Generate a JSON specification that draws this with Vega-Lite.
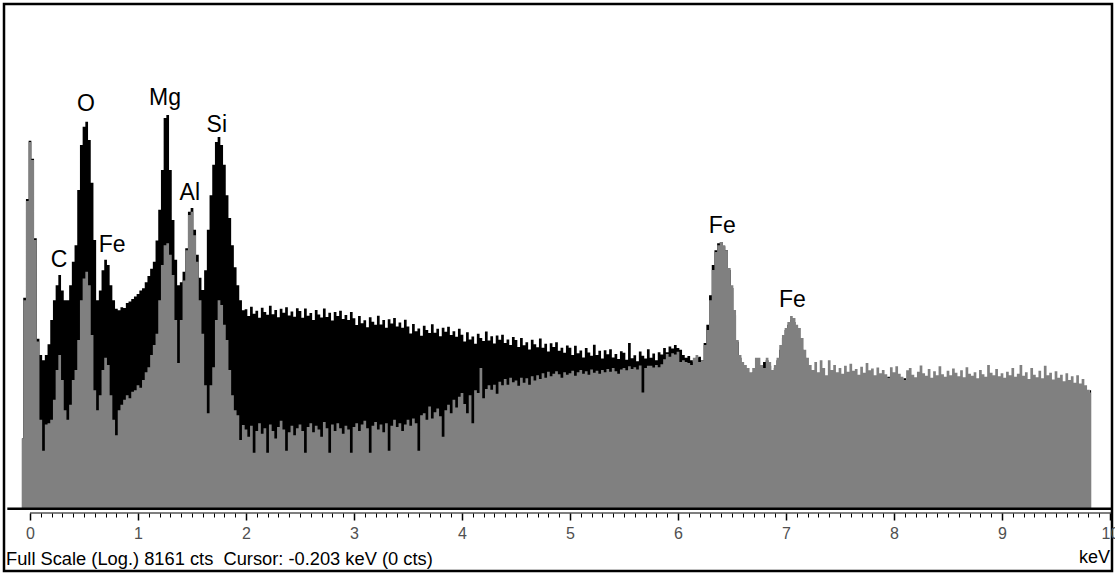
{
"$schema": "https://vega.github.io/schema/vega-lite/v6.json",
"width": 1108, "height": 567, "autosize": "none",
"padding": {"left": 4, "top": 4, "right": 3, "bottom": 3},
"background": "#ffffff",
"config": {"view": {"stroke": "#000000", "strokeWidth": 2.5}, "font": "Liberation Sans"},
"datasets": {
"spec": [
{"e":-0.075,"k":3.5,"g":3.5},{"e":-0.05,"k":44,"g":42},{"e":-0.025,"k":260,"g":250},{"e":0,"k":740,"g":725},{"e":0.025,"k":535,"g":523},{"e":0.05,"k":128,"g":124},{"e":0.075,"k":21,"g":20},{"e":0.1,"k":15.7,"g":4.9},{"e":0.125,"k":14.3,"g":2.8},{"e":0.15,"k":15.7,"g":4.5},{"e":0.175,"k":19,"g":4.6},{"e":0.2,"k":29.5,"g":4.9},{"e":0.225,"k":42,"g":7},{"e":0.25,"k":55,"g":12},{"e":0.275,"k":66,"g":15.7},{"e":0.3,"k":50,"g":10},{"e":0.325,"k":42,"g":5.8},{"e":0.35,"k":42,"g":4.9},{"e":0.375,"k":55,"g":6.4},{"e":0.4,"k":84,"g":10},{"e":0.425,"k":113,"g":12},{"e":0.45,"k":305,"g":20.5},{"e":0.475,"k":685,"g":42},{"e":0.5,"k":950,"g":62},{"e":0.525,"k":1040,"g":70},{"e":0.55,"k":750,"g":55},{"e":0.575,"k":347,"g":22.5},{"e":0.6,"k":124,"g":8.3},{"e":0.625,"k":42,"g":5.8},{"e":0.65,"k":50,"g":7.6},{"e":0.675,"k":72,"g":12},{"e":0.7,"k":87,"g":14.9},{"e":0.725,"k":79,"g":13.1},{"e":0.75,"k":55,"g":7.6},{"e":0.775,"k":42,"g":4.9},{"e":0.8,"k":36,"g":3.7},{"e":0.825,"k":35,"g":5.8},{"e":0.85,"k":37,"g":6.4},{"e":0.875,"k":36.5,"g":7},{"e":0.9,"k":40,"g":7.6},{"e":0.925,"k":41,"g":7.2},{"e":0.95,"k":43,"g":8.1},{"e":0.975,"k":45,"g":8.3},
{"e":1.0,"k":47,"g":9.1},{"e":1.025,"k":50,"g":8.7},{"e":1.05,"k":52,"g":10},{"e":1.075,"k":58,"g":11.5},{"e":1.1,"k":65,"g":12.6},{"e":1.125,"k":74,"g":15.7},{"e":1.15,"k":84,"g":18.8},{"e":1.175,"k":123,"g":23},{"e":1.2,"k":214,"g":42},{"e":1.225,"k":438,"g":79},{"e":1.25,"k":1115,"g":113},{"e":1.275,"k":1176,"g":117},{"e":1.3,"k":438,"g":95},{"e":1.325,"k":178,"g":66},{"e":1.35,"k":87,"g":29.5},{"e":1.375,"k":55,"g":13.6},{"e":1.4,"k":58,"g":29.5},{"e":1.425,"k":70,"g":60},{"e":1.45,"k":107,"g":103},{"e":1.475,"k":206,"g":195},{"e":1.5,"k":221,"g":206},{"e":1.525,"k":149,"g":135},{"e":1.55,"k":95,"g":84},{"e":1.575,"k":63,"g":42},{"e":1.6,"k":50.5,"g":23},{"e":1.625,"k":72,"g":9.1},{"e":1.65,"k":149,"g":5.5},{"e":1.675,"k":278,"g":9.1},{"e":1.7,"k":480,"g":12.6},{"e":1.725,"k":725,"g":29.5},{"e":1.75,"k":790,"g":42},{"e":1.775,"k":685,"g":38.6},{"e":1.8,"k":480,"g":27},{"e":1.825,"k":278,"g":20.5},{"e":1.85,"k":184,"g":12},{"e":1.875,"k":113,"g":7.6},{"e":1.9,"k":76,"g":5.8},{"e":1.925,"k":55,"g":5.3},{"e":1.95,"k":42,"g":3.4},{"e":1.975,"k":35,"g":4.45},
{"e":2.0,"k":35.7,"g":4.1},{"e":2.025,"k":31.6,"g":3.6},{"e":2.05,"k":37.4,"g":4.4},{"e":2.075,"k":33,"g":2.7},{"e":2.1,"k":34.7,"g":4.0},{"e":2.125,"k":30.6,"g":4.6},{"e":2.15,"k":36.7,"g":3.8},{"e":2.175,"k":34,"g":4.2},{"e":2.2,"k":32.3,"g":2.7},{"e":2.225,"k":38,"g":4.5},{"e":2.25,"k":32.6,"g":4.0},{"e":2.275,"k":35.3,"g":3.5},{"e":2.3,"k":30.9,"g":4.3},{"e":2.325,"k":36,"g":4.8},{"e":2.35,"k":33.6,"g":4.1},{"e":2.375,"k":37,"g":2.8},{"e":2.4,"k":31.9,"g":3.9},{"e":2.425,"k":34.3,"g":4.4},{"e":2.45,"k":31.2,"g":3.7},{"e":2.475,"k":36.3,"g":4.2},
{"e":2.5,"k":34.6,"g":4.5},{"e":2.525,"k":30.7,"g":4.0},{"e":2.55,"k":36.2,"g":2.7},{"e":2.575,"k":31.8,"g":4.3},{"e":2.6,"k":33.4,"g":4.6},{"e":2.625,"k":29.4,"g":3.9},{"e":2.65,"k":35.2,"g":4.4},{"e":2.675,"k":32.5,"g":4.1},{"e":2.7,"k":30.8,"g":3.6},{"e":2.725,"k":36.2,"g":4.7},{"e":2.75,"k":31,"g":4.2},{"e":2.775,"k":33.5,"g":2.7},{"e":2.8,"k":29.2,"g":4.5},{"e":2.825,"k":34,"g":4.0},{"e":2.85,"k":31.7,"g":4.6},{"e":2.875,"k":34.8,"g":4.2},{"e":2.9,"k":30,"g":3.8},{"e":2.925,"k":32.2,"g":4.4},{"e":2.95,"k":29.4,"g":4.1},{"e":2.975,"k":34,"g":2.7},
{"e":3.0,"k":30.4,"g":4.3},{"e":3.025,"k":26.9,"g":4.6},{"e":3.05,"k":31.7,"g":4.0},{"e":3.075,"k":27.8,"g":4.5},{"e":3.1,"k":29.3,"g":4.8},{"e":3.125,"k":25.8,"g":4.2},{"e":3.15,"k":30.9,"g":2.7},{"e":3.175,"k":28.5,"g":4.4},{"e":3.2,"k":27,"g":4.7},{"e":3.225,"k":31.8,"g":4.1},{"e":3.25,"k":27.2,"g":4.5},{"e":3.275,"k":29.4,"g":3.9},{"e":3.3,"k":25.6,"g":4.6},{"e":3.325,"k":29.8,"g":2.8},{"e":3.35,"k":27.7,"g":4.4},{"e":3.375,"k":30.5,"g":4.9},{"e":3.4,"k":26.2,"g":4.3},{"e":3.425,"k":28.1,"g":4.6},{"e":3.45,"k":25.6,"g":4.0},{"e":3.475,"k":29.6,"g":4.5},
{"e":3.5,"k":26.2,"g":4.9},{"e":3.525,"k":23.1,"g":4.4},{"e":3.55,"k":27.4,"g":5.0},{"e":3.575,"k":24,"g":4.6},{"e":3.6,"k":25.3,"g":2.8},{"e":3.625,"k":22.2,"g":5.3},{"e":3.65,"k":26.6,"g":5.5},{"e":3.675,"k":24.6,"g":4.9},{"e":3.7,"k":23.3,"g":6.2},{"e":3.725,"k":27.3,"g":5.0},{"e":3.75,"k":23.4,"g":5.6},{"e":3.775,"k":25.2,"g":6.0},{"e":3.8,"k":22,"g":5.2},{"e":3.825,"k":25.6,"g":3.6},{"e":3.85,"k":23.8,"g":5.8},{"e":3.875,"k":26.1,"g":6.4},{"e":3.9,"k":22.5,"g":5.5},{"e":3.925,"k":24,"g":7.0},{"e":3.95,"k":21.8,"g":6.1},{"e":3.975,"k":25.1,"g":7.4},
{"e":4.0,"k":22.6,"g":7.9},{"e":4.025,"k":20,"g":6.5},{"e":4.05,"k":23.6,"g":5.5},{"e":4.075,"k":20.7,"g":7.6},{"e":4.1,"k":21.9,"g":4.6},{"e":4.125,"k":19.2,"g":8.3},{"e":4.15,"k":23,"g":7.9},{"e":4.175,"k":21.3,"g":12.4},{"e":4.2,"k":20.2,"g":7.2},{"e":4.225,"k":23.9,"g":8.5},{"e":4.25,"k":20.4,"g":9.1},{"e":4.275,"k":22,"g":8.4},{"e":4.3,"k":19.3,"g":9.2},{"e":4.325,"k":22.3,"g":7.8},{"e":4.35,"k":20.6,"g":9.7},{"e":4.375,"k":22.6,"g":9.1},{"e":4.4,"k":19.5,"g":10.2},{"e":4.425,"k":20.7,"g":9.2},{"e":4.45,"k":18.8,"g":10.4},{"e":4.475,"k":21.7,"g":9.6},
{"e":4.5,"k":20.5,"g":9.9},{"e":4.525,"k":18.1,"g":9.0},{"e":4.55,"k":21.3,"g":10.4},{"e":4.575,"k":18.7,"g":9.5},{"e":4.6,"k":19.7,"g":10.3},{"e":4.625,"k":17.3,"g":9.2},{"e":4.65,"k":20.6,"g":10.7},{"e":4.675,"k":19,"g":9.9},{"e":4.7,"k":18,"g":10.9},{"e":4.725,"k":21.1,"g":10.2},{"e":4.75,"k":17.9,"g":11.3},{"e":4.775,"k":19.2,"g":10.4},{"e":4.8,"k":16.7,"g":11.6},{"e":4.825,"k":19.4,"g":10.7},{"e":4.85,"k":18.1,"g":11.2},{"e":4.875,"k":19.7,"g":11.7},{"e":4.9,"k":16.9,"g":11.1},{"e":4.925,"k":17.9,"g":10.4},{"e":4.95,"k":16.3,"g":11.5},{"e":4.975,"k":18.6,"g":11.0},
{"e":5.0,"k":17.9,"g":11.3},{"e":5.025,"k":15.7,"g":11.8},{"e":5.05,"k":18.5,"g":10.8},{"e":5.075,"k":16.2,"g":11.5},{"e":5.1,"k":17,"g":12.0},{"e":5.125,"k":15,"g":11.2},{"e":5.15,"k":17.8,"g":11.7},{"e":5.175,"k":16.4,"g":11.0},{"e":5.2,"k":15.5,"g":12.1},{"e":5.225,"k":18.9,"g":11.4},{"e":5.25,"k":15.7,"g":11.8},{"e":5.275,"k":16.9,"g":11.2},{"e":5.3,"k":14.7,"g":12.0},{"e":5.325,"k":17.1,"g":11.5},{"e":5.35,"k":15.9,"g":12.2},{"e":5.375,"k":17.4,"g":11.6},{"e":5.4,"k":15,"g":12.4},{"e":5.425,"k":16,"g":11.7},{"e":5.45,"k":14.6,"g":11.2},{"e":5.475,"k":16.8,"g":12.1},
{"e":5.5,"k":16.3,"g":12.4},{"e":5.525,"k":14.4,"g":11.9},{"e":5.55,"k":19.5,"g":12.8},{"e":5.575,"k":14.8,"g":12.2},{"e":5.6,"k":15.6,"g":12.6},{"e":5.625,"k":14,"g":12.1},{"e":5.65,"k":16.7,"g":13.0},{"e":5.675,"k":15.5,"g":8.0},{"e":5.7,"k":14.7,"g":12.4},{"e":5.725,"k":17.4,"g":12.9},{"e":5.75,"k":14.9,"g":12.9},{"e":5.775,"k":16.1,"g":12.5},{"e":5.8,"k":14.3,"g":13.1},{"e":5.825,"k":16.5,"g":12.6},{"e":5.85,"k":15.8,"g":13.3},{"e":5.875,"k":17.8,"g":14.5},{"e":5.9,"k":16.5,"g":16.0},{"e":5.925,"k":18.3,"g":15.2},{"e":5.95,"k":17.6,"g":16.2},{"e":5.975,"k":18.8,"g":15.8},
{"e":6.0,"k":17.8,"g":16.6},{"e":6.025,"k":17.2,"g":13.8},{"e":6.05,"k":15.7,"g":14.3},{"e":6.075,"k":14.9,"g":13.8},{"e":6.1,"k":15.4,"g":13.6},{"e":6.125,"k":14.3,"g":13.1},{"e":6.15,"k":13.8,"g":14.9},{"e":6.175,"k":14.9,"g":15.7},{"e":6.2,"k":15.2,"g":13.8},{"e":6.225,"k":14.3,"g":14.3},{"e":6.25,"k":19.5,"g":18.8},{"e":6.275,"k":27,"g":24.6},{"e":6.3,"k":46,"g":42},{"e":6.325,"k":79,"g":72.5},{"e":6.35,"k":103,"g":100},{"e":6.375,"k":117,"g":113},{"e":6.4,"k":120,"g":120},{"e":6.425,"k":111,"g":113},{"e":6.45,"k":103,"g":103},{"e":6.475,"k":72.5,"g":75},{"e":6.5,"k":52.3,"g":55},{"e":6.525,"k":32,"g":35.2},{"e":6.55,"k":19.9,"g":20.5},{"e":6.575,"k":14.9,"g":15.7},{"e":6.6,"k":13.1,"g":13.8},{"e":6.625,"k":12,"g":13.1},{"e":6.65,"k":10.4,"g":12.4},{"e":6.675,"k":10.9,"g":11.5},{"e":6.7,"k":11.5,"g":12.4},{"e":6.725,"k":11.5,"g":14.9},{"e":6.75,"k":12,"g":14.9},{"e":6.775,"k":12.4,"g":13.1},{"e":6.8,"k":13.8,"g":12.4},{"e":6.825,"k":14.3,"g":14.9},{"e":6.85,"k":12.9,"g":13.8},{"e":6.875,"k":11.5,"g":12},{"e":6.9,"k":12.4,"g":13.1},{"e":6.925,"k":14.3,"g":14.9},{"e":6.95,"k":17.2,"g":18.8},{"e":6.975,"k":21.3,"g":22.5},
{"e":7.0,"k":24.6,"g":25.5},{"e":7.025,"k":27,"g":28.4},{"e":7.05,"k":29.5,"g":31.6},{"e":7.075,"k":28.4,"g":30.5},{"e":7.1,"k":24.6,"g":27},{"e":7.125,"k":20.5,"g":25.5},{"e":7.15,"k":17.2,"g":21.3},{"e":7.175,"k":14.9,"g":17.2},{"e":7.2,"k":12.4,"g":14.9},{"e":7.225,"k":11.5,"g":13.1},{"e":7.25,"k":10.4,"g":12},{"e":7.275,"k":10,"g":13.8},{"e":7.3,"k":10.9,"g":11.5},{"e":7.325,"k":9.1,"g":14.3},{"e":7.35,"k":10.4,"g":12.4},{"e":7.375,"k":9.8,"g":10.9},{"e":7.4,"k":9.1,"g":14.3},{"e":7.425,"k":10.9,"g":12},{"e":7.45,"k":10,"g":13.1},{"e":7.475,"k":9.6,"g":11.5},
{"e":7.5,"k":9.6,"g":12.4},{"e":7.525,"k":8.8,"g":11.2},{"e":7.55,"k":10.2,"g":12.9},{"e":7.575,"k":9.0,"g":11.6},{"e":7.6,"k":9.9,"g":13.4},{"e":7.625,"k":8.5,"g":11.8},{"e":7.65,"k":9.4,"g":12.2},{"e":7.675,"k":7.9,"g":11.0},{"e":7.7,"k":9.7,"g":12.7},{"e":7.725,"k":8.6,"g":11.4},{"e":7.75,"k":10.1,"g":13.6},{"e":7.775,"k":8.3,"g":11.9},{"e":7.8,"k":9.2,"g":12.3},{"e":7.825,"k":10.4,"g":10.9},{"e":7.85,"k":8.7,"g":12.5},{"e":7.875,"k":9.5,"g":11.3},{"e":7.9,"k":7.6,"g":12.0},{"e":7.925,"k":9.0,"g":11.1},{"e":7.95,"k":10.6,"g":10.4},{"e":7.975,"k":8.4,"g":12.6},
{"e":8.0,"k":9.1,"g":11.5},{"e":8.025,"k":7.8,"g":12.8},{"e":8.05,"k":9.6,"g":11.2},{"e":8.075,"k":8.2,"g":10.6},{"e":8.1,"k":10.3,"g":10.0},{"e":8.125,"k":7.4,"g":11.9},{"e":8.15,"k":9.0,"g":12.4},{"e":8.175,"k":6.9,"g":11.0},{"e":8.2,"k":8.8,"g":10.5},{"e":8.225,"k":9.7,"g":11.6},{"e":8.25,"k":7.7,"g":13.0},{"e":8.275,"k":8.6,"g":11.3},{"e":8.3,"k":6.6,"g":10.8},{"e":8.325,"k":8.9,"g":12.2},{"e":8.35,"k":9.8,"g":10.4},{"e":8.375,"k":7.2,"g":11.7},{"e":8.4,"k":8.5,"g":10.9},{"e":8.425,"k":9.3,"g":12.8},{"e":8.45,"k":7.0,"g":11.1},{"e":8.475,"k":8.1,"g":10.6},
{"e":8.5,"k":9.0,"g":11.8},{"e":8.525,"k":6.8,"g":10.9},{"e":8.55,"k":8.4,"g":12.3},{"e":8.575,"k":7.6,"g":11.4},{"e":8.6,"k":9.2,"g":10.7},{"e":8.625,"k":6.5,"g":11.9},{"e":8.65,"k":8.3,"g":10.5},{"e":8.675,"k":7.4,"g":12.6},{"e":8.7,"k":8.8,"g":11.2},{"e":8.725,"k":6.9,"g":10.8},{"e":8.75,"k":8.0,"g":11.5},{"e":8.775,"k":9.4,"g":10.3},{"e":8.8,"k":7.1,"g":12.0},{"e":8.825,"k":8.6,"g":11.1},{"e":8.85,"k":6.4,"g":10.6},{"e":8.875,"k":8.2,"g":13.1},{"e":8.9,"k":7.5,"g":11.4},{"e":8.925,"k":8.9,"g":10.9},{"e":8.95,"k":6.7,"g":12.2},{"e":8.975,"k":7.9,"g":10.7},
{"e":9.0,"k":8.5,"g":11.3},{"e":9.025,"k":7.0,"g":10.4},{"e":9.05,"k":4.8,"g":11.6},{"e":9.075,"k":8.1,"g":10.9},{"e":9.1,"k":7.3,"g":12.4},{"e":9.125,"k":8.7,"g":10.6},{"e":9.15,"k":6.6,"g":11.2},{"e":9.175,"k":7.8,"g":13.1},{"e":9.2,"k":6.2,"g":10.8},{"e":9.225,"k":8.3,"g":11.5},{"e":9.25,"k":7.2,"g":10.2},{"e":9.275,"k":8.6,"g":12.4},{"e":9.3,"k":6.5,"g":11.0},{"e":9.325,"k":7.9,"g":10.5},{"e":9.35,"k":7.0,"g":11.8},{"e":9.375,"k":8.4,"g":10.3},{"e":9.4,"k":6.1,"g":12.9},{"e":9.425,"k":7.6,"g":10.9},{"e":9.45,"k":8.2,"g":11.4},{"e":9.475,"k":6.8,"g":10.1},
{"e":9.5,"k":7.7,"g":11.7},{"e":9.525,"k":6.3,"g":10.4},{"e":9.55,"k":8.0,"g":11.0},{"e":9.575,"k":7.1,"g":9.8},{"e":9.6,"k":7.8,"g":11.3},{"e":9.625,"k":6.6,"g":10.0},{"e":9.65,"k":8.1,"g":10.7},{"e":9.675,"k":7.4,"g":9.5},{"e":9.7,"k":7.0,"g":10.9},{"e":9.725,"k":8.3,"g":9.4},{"e":9.75,"k":7.5,"g":10.2},{"e":9.775,"k":8.0,"g":9.1},{"e":9.8,"k":7.9,"g":8.4},{"e":9.825,"k":8.3,"g":8.0}
],
"labels": [
{"t":"C","e":0.269,"c":76},{"t":"O","e":0.519,"c":1263},{"t":"Fe","e":0.76,"c":100},{"t":"Mg","e":1.25,"c":1407},{"t":"Al","e":1.48,"c":255},{"t":"Si","e":1.73,"c":866},{"t":"Fe","e":6.41,"c":141},{"t":"Fe","e":7.06,"c":37}
]
},
"resolve": {"axis": {"x": "independent"}},
"layer": [
{
"data": {"name": "spec"},
"mark": {"type": "area", "interpolate": "step", "color": "#000000"},
"encoding": {
"x": {"field": "e", "type": "quantitative", "scale": {"domain": [-0.2407, 10.0185], "nice": false, "zero": false},
"axis": {"orient": "bottom", "offset": -58, "domain": false, "grid": false, "title": null,
"values": [0,1,2,3,4,5,6,7,8,9,10],
"tickSize": 7, "tickWidth": 1.5, "tickColor": "#000000",
"labelOverlap": false, "labelFlush": false, "labelFontSize": 16, "labelColor": "#505050", "labelFont": "Liberation Sans", "labelPadding": 5, "format": "d"}},
"y": {"field": "k", "type": "quantitative", "scale": {"type": "log", "domain": [0.3221, 8660], "nice": false}, "axis": null},
"y2": {"datum": 1}
}
},
{
"data": {"name": "spec"},
"mark": {"type": "area", "interpolate": "step", "color": "#808080"},
"encoding": {
"x": {"field": "e", "type": "quantitative", "scale": {"domain": [-0.2407, 10.0185], "nice": false, "zero": false}, "axis": null},
"y": {"field": "g", "type": "quantitative", "scale": {"type": "log", "domain": [0.3221, 8660], "nice": false}, "axis": null},
"y2": {"datum": 1}
}
},
{
"data": {"values": [{}]},
"mark": {"type": "rule", "color": "#000000", "strokeWidth": 2.5},
"encoding": {
"x": {"datum": -0.21, "type": "quantitative", "scale": {"domain": [-0.2407, 10.0185], "nice": false, "zero": false}, "axis": null},
"x2": {"datum": 10.0185},
"y": {"datum": 0.9875, "type": "quantitative", "scale": {"type": "log", "domain": [0.3221, 8660], "nice": false}, "axis": null}
}
},
{
"data": {"values": [{}]},
"mark": {"type": "rule", "color": "#000000", "strokeWidth": 1.2},
"encoding": {
"x": {"datum": 0, "type": "quantitative", "scale": {"domain": [-0.2407, 10.0185], "nice": false, "zero": false},
"axis": {"orient": "bottom", "offset": -58, "domain": false, "grid": false, "title": null, "labels": false,
"values": [0.1,0.2,0.3,0.4,0.5,0.6,0.7,0.8,0.9,1.1,1.2,1.3,1.4,1.5,1.6,1.7,1.8,1.9,2.1,2.2,2.3,2.4,2.5,2.6,2.7,2.8,2.9,3.1,3.2,3.3,3.4,3.5,3.6,3.7,3.8,3.9,4.1,4.2,4.3,4.4,4.5,4.6,4.7,4.8,4.9,5.1,5.2,5.3,5.4,5.5,5.6,5.7,5.8,5.9,6.1,6.2,6.3,6.4,6.5,6.6,6.7,6.8,6.9,7.1,7.2,7.3,7.4,7.5,7.6,7.7,7.8,7.9,8.1,8.2,8.3,8.4,8.5,8.6,8.7,8.8,8.9,9.1,9.2,9.3,9.4,9.5,9.6,9.7,9.8,9.9],
"tickSize": 4, "tickWidth": 1, "tickColor": "#000000"}},
"x2": {"datum": 10.0185},
"y": {"datum": 0.914, "type": "quantitative", "scale": {"type": "log", "domain": [0.3221, 8660], "nice": false}, "axis": null}
}
},
{
"data": {"name": "labels"},
"mark": {"type": "text", "fontSize": 23, "font": "Liberation Sans", "baseline": "alphabetic", "align": "center", "color": "#000000"},
"encoding": {
"x": {"field": "e", "type": "quantitative", "scale": {"domain": [-0.2407, 10.0185], "nice": false, "zero": false}, "axis": null},
"y": {"field": "c", "type": "quantitative", "scale": {"type": "log", "domain": [0.3221, 8660], "nice": false}, "axis": null},
"text": {"field": "t"}
}
},
{
"data": {"values": [{}]},
"mark": {"type": "text", "fontSize": 18.3, "font": "Liberation Sans", "baseline": "alphabetic", "align": "left", "color": "#000000", "text": "Full Scale (Log.) 8161 cts \u00a0Cursor: -0.203 keV (0 cts)"},
"encoding": {
"x": {"datum": -0.2222, "type": "quantitative", "scale": {"domain": [-0.2407, 10.0185], "nice": false, "zero": false}, "axis": null},
"y": {"datum": 0.359, "type": "quantitative", "scale": {"type": "log", "domain": [0.3221, 8660], "nice": false}, "axis": null}
}
},
{
"data": {"values": [{}]},
"mark": {"type": "text", "fontSize": 18, "font": "Liberation Sans", "baseline": "alphabetic", "align": "right", "color": "#000000", "text": "keV"},
"encoding": {
"x": {"datum": 10.0, "type": "quantitative", "scale": {"domain": [-0.2407, 10.0185], "nice": false, "zero": false}, "axis": null},
"y": {"datum": 0.372, "type": "quantitative", "scale": {"type": "log", "domain": [0.3221, 8660], "nice": false}, "axis": null}
}
}
]
}
